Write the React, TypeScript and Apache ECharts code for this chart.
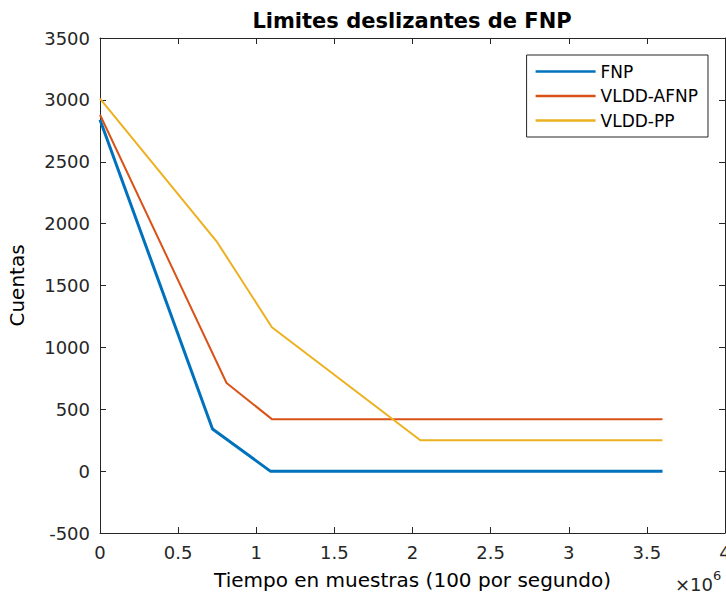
import React, { useEffect, useRef } from "react";
import * as echarts from "echarts";

// Sample index (100 samples per second) and counts for each trace
const fnpX = [0, 720000, 1090000, 3600000];
const fnpY = [2840, 340, 0, 0];

const afnpX = [0, 810000, 1100000, 3600000];
const afnpY = [2880, 712, 420, 420];

const ppX = [0, 750000, 1100000, 2050000, 3600000];
const ppY = [3010, 1850, 1163, 250, 250];

const seriesNames = ["FNP", "VLDD-AFNP", "VLDD-PP"];
const seriesColors = ["#0072BD", "#D95319", "#EDB120"];

const xMin = 0;
const xMax = 4000000;
const xStep = 500000;
const yMin = -500;
const yMax = 3500;
const yStep = 500;

const titleText = "Limites deslizantes de FNP";
const xTitle = "Tiempo en muestras (100 por segundo)";
const yTitle = "Cuentas";

const pairs = (xs: number[], ys: number[]) => xs.map((x, i) => [x, ys[i]]);

const AXIS = "#262626";
const FONT = "DejaVu Sans";

export default function App() {
  const ref = useRef<HTMLDivElement>(null);

  useEffect(() => {
    document.body.style.margin = "0";
    if (!ref.current) return;
    const chart = echarts.init(ref.current, undefined, { renderer: "svg" });

    const boxAxis = {
      axisLine: { show: true, onZero: false, lineStyle: { color: AXIS, width: 1 } },
      axisTick: { show: true, inside: true, length: 6, lineStyle: { color: AXIS, width: 1 } },
      splitLine: { show: false },
    };

    chart.setOption({
      animation: false,
      backgroundColor: "#ffffff",
      grid: {
        left: 100,
        right: 1,
        top: 38,
        bottom: 62,
        containLabel: false,
        outerBoundsMode: "none",
      },
      legend: {
        data: seriesNames,
        orient: "vertical",
        right: 18,
        top: 55,
        icon: "rect",
        itemWidth: 60,
        itemHeight: 2.5,
        itemGap: 7.5,
        padding: [8, 10, 8, 9],
        borderColor: AXIS,
        borderWidth: 1,
        backgroundColor: "#ffffff",
        textStyle: { fontFamily: FONT, fontSize: 17, color: "#000" },
      },
      xAxis: [
        {
          type: "value",
          min: xMin,
          max: xMax,
          interval: xStep,
          position: "bottom",
          ...boxAxis,
          axisLabel: {
            margin: 10,
            fontFamily: FONT,
            fontSize: 18,
            color: AXIS,
            showMaxLabel: true,
            formatter: (v: number) => String(v / 1e6),
          },
          name: xTitle,
          nameLocation: "middle",
          nameGap: 37,
          nameTextStyle: { fontFamily: FONT, fontSize: 20, color: "#000" },
        },
        {
          type: "value",
          min: xMin,
          max: xMax,
          interval: xStep,
          position: "top",
          ...boxAxis,
          axisLabel: { show: false },
        },
      ],
      yAxis: [
        {
          type: "value",
          min: yMin,
          max: yMax,
          interval: yStep,
          position: "left",
          ...boxAxis,
          axisLabel: {
            margin: 10,
            fontFamily: FONT,
            fontSize: 18,
            color: AXIS,
            formatter: (v: number) => String(v),
          },
          name: yTitle,
          nameLocation: "middle",
          nameRotate: 90,
          nameGap: 73,
          nameTextStyle: { fontFamily: FONT, fontSize: 20, color: "#000" },
        },
        {
          type: "value",
          min: yMin,
          max: yMax,
          interval: yStep,
          position: "right",
          ...boxAxis,
          axisLabel: { show: false },
        },
      ],
      series: [
        {
          name: seriesNames[0],
          type: "line",
          data: pairs(fnpX, fnpY),
          showSymbol: false,
          color: seriesColors[0],
          lineStyle: { width: 3, color: seriesColors[0] },
        },
        {
          name: seriesNames[1],
          type: "line",
          data: pairs(afnpX, afnpY),
          showSymbol: false,
          color: seriesColors[1],
          lineStyle: { width: 2, color: seriesColors[1] },
        },
        {
          name: seriesNames[2],
          type: "line",
          data: pairs(ppX, ppY),
          showSymbol: false,
          color: seriesColors[2],
          lineStyle: { width: 2, color: seriesColors[2] },
        },
      ],
      graphic: [
        {
          type: "text",
          x: 412,
          y: 21,
          style: {
            text: titleText,
            textAlign: "center",
            textVerticalAlign: "middle",
            fontFamily: FONT,
            fontSize: 21,
            fontWeight: "bold",
            fill: "#000",
          },
        },
        {
          type: "text",
          x: 675,
          y: 584,
          style: {
            text: "×10",
            textAlign: "left",
            textVerticalAlign: "middle",
            fontFamily: FONT,
            fontSize: 18,
            fill: AXIS,
          },
        },
        {
          type: "text",
          x: 713,
          y: 575,
          style: {
            text: "6",
            textAlign: "left",
            textVerticalAlign: "middle",
            fontFamily: FONT,
            fontSize: 13,
            fill: AXIS,
          },
        },
      ],
    });

    return () => chart.dispose();
  }, []);

  return <div ref={ref} style={{ width: 726, height: 595 }} />;
}
